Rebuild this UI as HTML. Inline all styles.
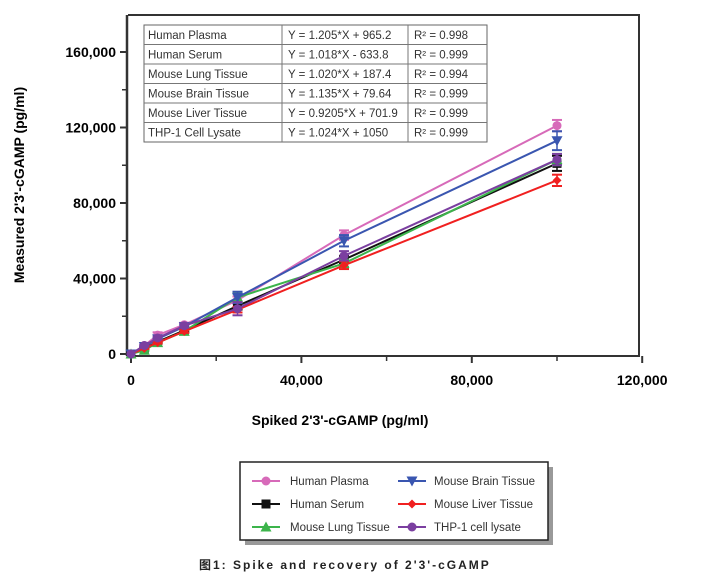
<!DOCTYPE html>
<html><head><meta charset="utf-8"><style>
body{margin:0;background:#fff;width:703px;height:581px;overflow:hidden;font-family:"Liberation Sans","Noto Sans CJK SC",sans-serif}
svg text{font-family:"Liberation Sans","Noto Sans CJK SC",sans-serif}
</style></head><body>
<svg id="chart" width="703" height="581" xmlns="http://www.w3.org/2000/svg">
<g id="frame">
<line x1="128" y1="15" x2="640" y2="15" stroke="#333" stroke-width="2"/>
<line x1="639" y1="15" x2="639" y2="356" stroke="#333" stroke-width="2"/>
<line x1="127" y1="15" x2="127" y2="356" stroke="#333" stroke-width="2.5"/>
<line x1="127" y1="356" x2="640" y2="356" stroke="#333" stroke-width="2"/>
</g>
<g id="table"></g>
<g id="axes"></g>
<g id="series"></g>
<text x="340" y="425" text-anchor="middle" font-weight="bold" font-size="14">Spiked 2'3'-cGAMP (pg/ml)</text>
<text transform="translate(24,185) rotate(-90)" text-anchor="middle" font-weight="bold" font-size="14">Measured 2'3'-cGAMP (pg/ml)</text>
<g>
<rect x="245" y="467" width="308" height="78" fill="#999"/>
<rect x="240" y="462" width="308" height="78" fill="#fff" stroke="#222" stroke-width="1.5"/>
<g id="legend-items"></g>
</g>
<text x="199" y="569" font-size="12" font-weight="bold" letter-spacing="2" fill="#222">图1: Spike and recovery of 2'3'-cGAMP</text>
</svg>
<script>
const NS="http://www.w3.org/2000/svg";
const xValues=[0,3125,6250,12500,25000,50000,100000];
const seriesNames=["Human Plasma","Human Serum","Mouse Lung Tissue","Mouse Brain Tissue","Mouse Liver Tissue","THP-1 cell lysate"];
const plasma=[0,4500,10000,15500,28500,63000,121000];
const serum=[0,3000,6500,12500,25500,50000,101000];
const lung=[0,2000,6000,12000,30000,48000,103000];
const brain=[0,4000,8000,14500,30000,60000,113000];
const liver=[0,3000,6000,12000,23500,47000,92000];
const thp=[0,4500,8500,15000,24000,52000,103000];
const errs=[[0,500,1500,1000,2000,2500,3000],[0,300,500,800,2000,2000,4000],[0,300,500,800,2000,2000,3000],[0,300,500,800,3000,3000,5000],[0,300,500,800,1500,2000,3000],[0,500,800,1000,3500,2500,3000]];
const xTicks=[0,40000,80000,120000];
const yTicks=[0,40000,80000,120000,160000];
const tableNames=["Human Plasma","Human Serum","Mouse Lung Tissue","Mouse Brain Tissue","Mouse Liver Tissue","THP-1 Cell Lysate"];
const tableEq=["Y = 1.205*X + 965.2","Y = 1.018*X - 633.8","Y = 1.020*X + 187.4","Y = 1.135*X + 79.64","Y = 0.9205*X + 701.9","Y = 1.024*X + 1050"];
const tableR=["R² = 0.998","R² = 0.999","R² = 0.994","R² = 0.999","R² = 0.999","R² = 0.999"];
const colors=["#d76ab9","#111","#3cb44b","#3a56b0","#f02020","#7b3fa0"];
const markers=["circle","square","tri","tridown","diamond","circle"];
const data=[plasma,serum,lung,brain,liver,thp];
const X=v=>131+v*(170.4/40000);
const Y=v=>354-v*(75.5/40000);
function mk(tag,attrs,parent){const e=document.createElementNS(NS,tag);for(const k in attrs)e.setAttribute(k,attrs[k]);parent.appendChild(e);return e;}
const axes=document.getElementById('axes');
xTicks.forEach((t,i)=>{
 mk('line',{x1:X(t),x2:X(t),y1:356,y2:363,stroke:'#333','stroke-width':2},axes);
 if(i<xTicks.length-1)mk('line',{x1:X(t+20000),x2:X(t+20000),y1:356,y2:361,stroke:'#333','stroke-width':1.5},axes);
 const tx=mk('text',{x:X(t),y:385,'text-anchor':'middle','font-size':14,'font-weight':'bold'},axes);
 tx.textContent=t.toLocaleString('en-US');
 
 
});
yTicks.forEach((t,i)=>{
 mk('line',{x1:120,x2:127,y1:Y(t),y2:Y(t),stroke:'#333','stroke-width':2},axes);
 if(i<yTicks.length-1)mk('line',{x1:122,x2:127,y1:Y(t+20000),y2:Y(t+20000),stroke:'#333','stroke-width':1.5},axes);
 const tx=mk('text',{x:116,y:Y(t)+5,'text-anchor':'end','font-size':14,'font-weight':'bold'},axes);
 tx.textContent=t.toLocaleString('en-US');
 
 
});
function marker(type,cx,cy,c,g,s){
 if(type=='circle')return mk('circle',{cx,cy,r:s,fill:c},g);
 if(type=='square')return mk('rect',{x:cx-s,y:cy-s,width:2*s,height:2*s,fill:c},g);
 if(type=='tri')return mk('polygon',{points:`${cx},${cy-s-1} ${cx-s-1},${cy+s} ${cx+s+1},${cy+s}`,fill:c},g);
 if(type=='tridown')return mk('polygon',{points:`${cx},${cy+s+1} ${cx-s-1},${cy-s} ${cx+s+1},${cy-s}`,fill:c},g);
 return mk('polygon',{points:`${cx},${cy-s} ${cx+s},${cy} ${cx},${cy+s} ${cx-s},${cy}`,fill:c},g);
}
const sg=document.getElementById('series');
data.forEach((arr,si)=>{
 const g=mk('g',{},sg);
 
 
 const pl=mk('polyline',{points:arr.map((v,i)=>X(xValues[i])+','+Y(v)).join(' '),fill:'none',stroke:colors[si],'stroke-width':2},g);
 
 
 arr.forEach((v,i)=>{
  const e=errs[si][i],cx=X(xValues[i]);
  if(e>0){
   mk('line',{x1:cx,x2:cx,y1:Y(v-e),y2:Y(v+e),stroke:colors[si],'stroke-width':1.5},g);
   mk('line',{x1:cx-5,x2:cx+5,y1:Y(v-e),y2:Y(v-e),stroke:colors[si],'stroke-width':2},g);
   mk('line',{x1:cx-5,x2:cx+5,y1:Y(v+e),y2:Y(v+e),stroke:colors[si],'stroke-width':2},g);
  }
  const m=marker(markers[si],cx,Y(v),colors[si],g,4.5);
  
  
 });
});
// table
const tb=document.getElementById('table');
const tTop=25,rh=19.5;
mk('rect',{x:144,y:tTop,width:343,height:rh*6,fill:'#fff',stroke:'#666','stroke-width':1},tb);
for(let r=1;r<6;r++)mk('line',{x1:144,x2:487,y1:tTop+r*rh,y2:tTop+r*rh,stroke:'#777','stroke-width':1},tb);
[282,408].forEach(c=>mk('line',{x1:c,x2:c,y1:tTop,y2:tTop+rh*6,stroke:'#777','stroke-width':1},tb));
for(let r=0;r<6;r++){
 [[tableNames,148],[tableEq,288],[tableR,414]].forEach(([a,x])=>{
  const t=mk('text',{x,y:tTop+r*rh+14,'font-size':11.5,fill:'#333'},tb);
  t.textContent=a[r];
  
  
 });
}
// legend
const lg=document.getElementById('legend-items');
const lpos=[[252,481],[252,504],[252,527],[398,481],[398,504],[398,527]];
seriesNames.forEach((n,i)=>{
 const [x,y]=lpos[i];
 const g=mk('g',{},lg);
 
 
 mk('line',{x1:x,x2:x+28,y1:y,y2:y,stroke:colors[i],'stroke-width':2},g);
 marker(markers[i],x+14,y,colors[i],g,4.5);
 const t=mk('text',{x:i<3?x+38:x+36,y:y+4,'font-size':11.5,fill:'#333'},g);
 t.textContent=n;
});
</script>
</body></html>
